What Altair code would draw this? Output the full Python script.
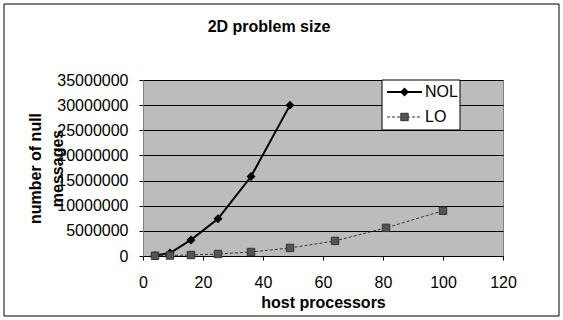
import altair as alt
import pandas as pd

# ---- data ----
nol_x = [4, 9, 16, 25, 36, 49]
nol_y = [100000, 600000, 3200000, 7400000, 15800000, 30000000]
lo_x = [4, 9, 16, 25, 36, 49, 64, 81, 100]
lo_y = [50000, 100000, 200000, 400000, 800000, 1600000, 3000000, 5600000, 9000000]
series_names = ["NOL", "LO"]
x_ticks = [0, 20, 40, 60, 80, 100, 120]
y_ticks = [0, 5000000, 10000000, 15000000, 20000000, 25000000, 30000000, 35000000]
title_text = "2D problem size"
x_title = "host processors"
y_title = ["number of null", "messages"]

df = pd.DataFrame(
    {"procs": nol_x + lo_x,
     "msgs": nol_y + lo_y,
     "series": [series_names[0]] * len(nol_x) + [series_names[1]] * len(lo_x)}
)

FONT = "Liberation Sans"
W, H = 360, 176

xenc = alt.X("procs:Q",
             scale=alt.Scale(domain=[0, 120], nice=False),
             axis=alt.Axis(values=x_ticks, grid=False, title=x_title,
                           labelFontSize=16, labelFont=FONT, labelColor="black",
                           titleFontSize=16, titleFont=FONT, titleFontWeight="bold",
                           titleY=46, titleBaseline="middle",
                           tickSize=4, tickColor="black", domainColor="black",
                           labelPadding=14, labelFlush=False))
yenc = alt.Y("msgs:Q",
             scale=alt.Scale(domain=[0, 35000000], nice=False),
             axis=alt.Axis(values=y_ticks, format="d", grid=True, gridColor="black",
                           gridWidth=1, title=y_title,
                           labelFontSize=16, labelFont=FONT, labelColor="black",
                           titleFontSize=16, titleFont=FONT, titleFontWeight="bold",
                           titleAngle=-90, titleX=-108, titleY=88,
                           titleBaseline="middle", titleAlign="center",
                           titleLineHeight=22,
                           tickSize=4, tickColor="black", domainColor="#808080",
                           labelPadding=11))

base = alt.Chart(df)
one = pd.DataFrame({"a": [0]})

bg = alt.Chart(one).mark_rect(
    fill="none", stroke="black", strokeWidth=1
).encode(x=alt.value(-139), x2=alt.value(416), y=alt.value(-76), y2=alt.value(236))

nol_line = base.transform_filter(alt.datum.series == "NOL").mark_line(
    color="black", strokeWidth=2).encode(x=xenc, y=yenc)
lo_line = base.transform_filter(alt.datum.series == "LO").mark_line(
    color="#333333", strokeWidth=1, strokeDash=[3, 2]).encode(x=xenc, y=yenc)
nol_pts = base.transform_filter(alt.datum.series == "NOL").mark_point(
    shape="diamond", filled=True, color="black", size=80, opacity=1).encode(x=xenc, y=yenc)
lo_pts = base.transform_filter(alt.datum.series == "LO").mark_point(
    shape="square", filled=True, color="#555555", stroke="#333333", strokeWidth=1,
    size=55, opacity=1).encode(x=xenc, y=yenc)

title = alt.Chart(one).mark_text(
    text=title_text, font=FONT, fontSize=16, fontWeight="bold", color="black",
    baseline="middle", align="center").encode(x=alt.value(126), y=alt.value(-53))

leg_box = alt.Chart(one).mark_rect(fill="white", stroke="black", strokeWidth=1).encode(
    x=alt.value(239), x2=alt.value(317), y=alt.value(0), y2=alt.value(50))
leg_nol_line = alt.Chart(one).mark_rule(color="black", strokeWidth=2).encode(
    x=alt.value(244), x2=alt.value(279), y=alt.value(12))
leg_lo_line = alt.Chart(one).mark_rule(color="#333333", strokeWidth=1, strokeDash=[3, 2]).encode(
    x=alt.value(244), x2=alt.value(279), y=alt.value(37))
leg_nol_pt = alt.Chart(one).mark_point(shape="diamond", filled=True, color="black",
                                        size=80, opacity=1).encode(
    x=alt.value(261.5), y=alt.value(12))
leg_lo_pt = alt.Chart(one).mark_point(shape="square", filled=True, color="#555555",
                                       stroke="#333333", strokeWidth=1, size=55,
                                       opacity=1).encode(
    x=alt.value(261.5), y=alt.value(37))
leg_nol_txt = alt.Chart(one).mark_text(text=series_names[0], font=FONT, fontSize=16,
                                        align="left", baseline="middle", color="black").encode(
    x=alt.value(282), y=alt.value(12))
leg_lo_txt = alt.Chart(one).mark_text(text=series_names[1], font=FONT, fontSize=16,
                                       align="left", baseline="middle", color="black").encode(
    x=alt.value(282), y=alt.value(37))

chart = alt.layer(
    bg, nol_line, lo_line, nol_pts, lo_pts, title,
    leg_box, leg_nol_line, leg_lo_line, leg_nol_pt, leg_lo_pt, leg_nol_txt, leg_lo_txt
).properties(
    width=W, height=H,
    autosize=alt.AutoSizeParams(type="none"),
    padding={"left": 143, "top": 80, "right": 60, "bottom": 64},
    background="white",
).configure_view(fill="#bcbcbc", stroke="#808080", strokeWidth=1)

chart.save("out.html", embed_options={"renderer": "svg", "actions": False})
